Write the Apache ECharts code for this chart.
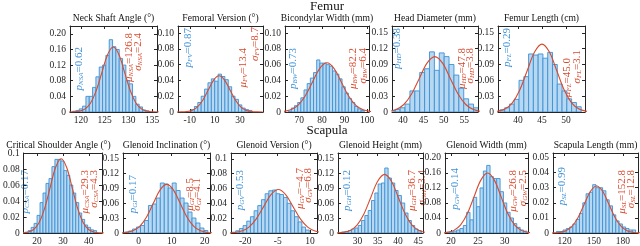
<!DOCTYPE html>
<html><head><meta charset="utf-8">
<script src="https://cdn.jsdelivr.net/npm/echarts@6/dist/echarts.min.js"></script>
<style>html,body{margin:0;padding:0;background:#fff}#c{width:640px;height:246px}</style>
</head><body><div id="c"></div>
<script>
// ================= DATA =================
const panelTitles = ['Neck Shaft Angle (°)','Femoral Version (°)','Bicondylar Width (mm)','Head Diameter (mm)','Femur Length (cm)',
  'Critical Shoulder Angle (°)','Glenoid Inclination (°)','Glenoid Version (°)','Glenoid Height (mm)','Glenoid Width (mm)','Scapula Length (mm)'];
const groupTitles = ['Femur','Scapula'];
const abbrevs = ['NSA','FV','BW','HD','FL','CSA','GI','GV','GH','GW','SL'];
const pValues = ['0.62','0.87','0.73','0.38','0.29','0.17','0.17','0.53','0.12','0.14','0.99'];
const muValues = ['126.8','13.4','82.2','47.8','45.0','29.3','8.5','−4.7','36.7','26.8','152.8'];
const sigmaValues = ['2.4','8.7','6.4','3.8','3.1','4.3','4.1','6.8','3.4','2.5','12.8'];

// x tick values per panel
const xTicks = [[120,125,130,135],[-10,10,30],[70,80,90,100],[40,45,50,55],[40,45,50],
  [20,30,40],[0,10,20],[-20,-5,10],[30,35,40,45],[20,25,30],[120,150,180]];
// y tick values and labels per panel
const yTicks = [
  [0,0.04,0.08,0.12,0.16,0.20],[0,0.02,0.04,0.06,0.08,0.10],[0,0.02,0.04,0.06,0.08,0.10],
  [0,0.03,0.06,0.09,0.12,0.15],[0,0.03,0.06,0.09,0.12,0.15],[0,0.02,0.04,0.06,0.08,0.1],
  [0,0.03,0.06,0.09,0.12,0.15],[0,0.02,0.04,0.06,0.08,0.1],[0,0.03,0.06,0.09,0.12,0.15],
  [0,0.04,0.08,0.12,0.16,0.20],[0,0.01,0.02,0.03,0.04,0.05]];
const yTickLabels = [
  ['0','0.04','0.08','0.12','0.16','0.20'],['0','0.02','0.04','0.06','0.08','0.10'],['0','0.02','0.04','0.06','0.08','0.10'],
  ['0','0.03','0.06','0.09','0.12','0.15'],['0','0.03','0.06','0.09','0.12','0.15'],['0','0.02','0.04','0.06','0.08','0.1'],
  ['0','0.03','0.06','0.09','0.12','0.15'],['0','0.02','0.04','0.06','0.08','0.1'],['0','0.03','0.06','0.09','0.12','0.15'],
  ['0','0.04','0.08','0.12','0.16','0.20'],['0','0.01','0.02','0.03','0.04','0.05']];

// histograms: first bin edge, bin width, relative frequencies (pdf normalised)
const nsaBinStart = 118.25, nsaBinWidth = 0.7;
const nsaFreq = [0.002,0.004,0.008,0.015,0.04,0.04,0.063,0.09,0.115,0.12,0.145,0.185,0.167,0.16,0.137,0.12,0.08,0.072,0.04,0.02,0.013,0.005,0.003];
const fvBinStart = -9, fvBinWidth = 2.7;
const fvFreq = [0.003,0.007,0.012,0.02,0.029,0.037,0.042,0.039,0.048,0.045,0.041,0.032,0.02,0.016,0.009,0.005,0.003,0.002];
const bwBinStart = 65.1, bwBinWidth = 1.4;
const bwFreq = [0.001,0.005,0.008,0.012,0.018,0.028,0.036,0.043,0.05,0.066,0.062,0.062,0.06,0.058,0.052,0.048,0.042,0.032,0.024,0.017,0.012,0.007,0.004,0.002];
const hdBinStart = 36.9, hdBinWidth = 1.2;
const hdFreq = [0.003,0.005,0.008,0.015,0.04,0.04,0.075,0.082,0.114,0.079,0.112,0.105,0.09,0.07,0.045,0.025,0.015,0.008,0.005];
const flBinStart = 36.2, flBinWidth = 1.0;
const flFreq = [0.004,0.008,0.015,0.024,0.06,0.067,0.11,0.108,0.11,0.102,0.113,0.09,0.053,0.04,0.025,0.018,0.01];
const csaBinStart = 15.4, csaBinWidth = 1.15;
const csaFreq = [0.001,0.003,0.007,0.012,0.022,0.038,0.05,0.062,0.068,0.083,0.092,0.092,0.09,0.078,0.072,0.06,0.05,0.038,0.025,0.017,0.01,0.007,0.004,0.003];
const giBinStart = -4.25, giBinWidth = 1.2;
const giFreq = [0.002,0.004,0.008,0.012,0.015,0.025,0.055,0.058,0.07,0.1,0.098,0.09,0.1,0.085,0.07,0.06,0.042,0.03,0.02,0.01,0.005];
const gvBinStart = -26.1, gvBinWidth = 1.7;
const gvFreq = [0.001,0.003,0.006,0.01,0.016,0.022,0.03,0.037,0.045,0.053,0.057,0.058,0.053,0.052,0.048,0.04,0.03,0.022,0.015,0.008,0.004];
const ghBinStart = 26.1, ghBinWidth = 0.82;
const ghFreq = [0.002,0.003,0.005,0.008,0.01,0.015,0.025,0.035,0.045,0.065,0.08,0.098,0.1,0.13,0.11,0.1,0.085,0.075,0.06,0.04,0.025,0.015,0.008,0.005];
const gwBinStart = 19.2, gwBinWidth = 0.62;
const gwFreq = [0.002,0.003,0.005,0.008,0.012,0.02,0.055,0.035,0.095,0.07,0.12,0.165,0.18,0.15,0.145,0.145,0.11,0.08,0.055,0.04,0.025,0.015,0.008,0.005];
const slBinStart = 111.4, slBinWidth = 3.4;
const slFreq = [0.001,0.001,0.002,0.003,0.004,0.006,0.009,0.013,0.02,0.026,0.027,0.032,0.03,0.03,0.028,0.022,0.018,0.012,0.008,0.006,0.004,0.003,0.002,0.002];

// fitted normal curves (sampled points)
const nsaCurveX = [117.2,118.4,119.6,120.8,122.0,123.2,124.4,125.6,126.8,128.0,129.2,130.4,131.6,132.8,134.0,135.2,136.4];
const nsaCurveY = [0.00005,0.0004,0.0018,0.0073,0.0225,0.054,0.1008,0.1467,0.1662,0.1467,0.1008,0.054,0.0225,0.0073,0.0018,0.0004,0.00005];
const fvCurveX = [-21.4,-17.05,-12.7,-8.35,-4.0,0.35,4.7,9.05,13.4,17.75,22.1,26.45,30.8,35.15,39.5,43.85,48.2];
const fvCurveY = [0.00001,0.0001,0.00051,0.00201,0.0062,0.01489,0.02781,0.04046,0.04585,0.04046,0.02781,0.01489,0.0062,0.00201,0.00051,0.0001,0.00001];
const bwCurveX = [56.6,59.8,63.0,66.2,69.4,72.6,75.8,79.0,82.2,85.4,88.6,91.8,95.0,98.2,101.4,104.6,107.8];
const bwCurveY = [0.00002,0.00014,0.00069,0.00274,0.00843,0.02024,0.0378,0.05501,0.06233,0.05501,0.0378,0.02024,0.00843,0.00274,0.00069,0.00014,0.00002];
const hdCurveX = [32.6,34.5,36.4,38.3,40.2,42.1,44.0,45.9,47.8,49.7,51.6,53.5,55.4,57.3,59.2,61.1,63.0];
const hdCurveY = [0.00003,0.00023,0.00117,0.00461,0.0142,0.03409,0.06367,0.09264,0.10498,0.09264,0.06367,0.03409,0.0142,0.00461,0.00117,0.00023,0.00003];
const flCurveX = [32.6,34.15,35.7,37.25,38.8,40.35,41.9,43.45,45.0,46.55,48.1,49.65,51.2,52.75,54.3,55.85,57.4];
const flCurveY = [0.00004,0.00028,0.00143,0.00565,0.01741,0.04179,0.07805,0.11357,0.12869,0.11357,0.07805,0.04179,0.01741,0.00565,0.00143,0.00028,0.00004];
const csaCurveX = [12.1,14.25,16.4,18.55,20.7,22.85,25.0,27.15,29.3,31.45,33.6,35.75,37.9,40.05,42.2,44.35,46.5];
const csaCurveY = [0.00003,0.0002,0.00103,0.00407,0.01255,0.03012,0.05627,0.08187,0.09277,0.08187,0.05627,0.03012,0.01255,0.00407,0.00103,0.0002,0.00003];
const giCurveX = [-7.9,-5.85,-3.8,-1.75,0.3,2.35,4.4,6.45,8.5,10.55,12.6,14.65,16.7,18.75,20.8,22.85,24.9];
const giCurveY = [0.00003,0.00021,0.00108,0.00427,0.01316,0.03159,0.05901,0.08587,0.0973,0.08587,0.05901,0.03159,0.01316,0.00427,0.00108,0.00021,0.00003];
const gvCurveX = [-31.9,-28.5,-25.1,-21.7,-18.3,-14.9,-11.5,-8.1,-4.7,-1.3,2.1,5.5,8.9,12.3,15.7,19.1,22.5];
const gvCurveY = [0.00002,0.00013,0.00065,0.00258,0.00794,0.01905,0.03558,0.05177,0.05866,0.05177,0.03558,0.01905,0.00794,0.00258,0.00065,0.00013,0.00002];
const ghCurveX = [23.1,24.8,26.5,28.2,29.9,31.6,33.3,35.0,36.7,38.4,40.1,41.8,43.5,45.2,46.9,48.6,50.3];
const ghCurveY = [0.00004,0.00026,0.0013,0.00515,0.01587,0.0381,0.07116,0.10354,0.11733,0.10354,0.07116,0.0381,0.01587,0.00515,0.0013,0.00026,0.00004];
const gwCurveX = [16.8,18.05,19.3,20.55,21.8,23.05,24.3,25.55,26.8,28.05,29.3,30.55,31.8,33.05,34.3,35.55,36.8];
const gwCurveY = [0.00005,0.00035,0.00177,0.00701,0.02159,0.05182,0.09679,0.14083,0.15958,0.14083,0.09679,0.05182,0.02159,0.00701,0.00177,0.00035,0.00005];
const slCurveX = [101.6,108.0,114.4,120.8,127.2,133.6,140.0,146.4,152.8,159.2,165.6,172.0,178.4,184.8,191.2,197.6,204.0];
const slCurveY = [0.00001,0.00007,0.00035,0.00137,0.00422,0.01012,0.0189,0.02751,0.03117,0.02751,0.0189,0.01012,0.00422,0.00137,0.00035,0.00007,0.00001];

// ================= LAYOUT (positions / styles) =================
const histStart = [nsaBinStart,fvBinStart,bwBinStart,hdBinStart,flBinStart,csaBinStart,giBinStart,gvBinStart,ghBinStart,gwBinStart,slBinStart];
const histWidth = [nsaBinWidth,fvBinWidth,bwBinWidth,hdBinWidth,flBinWidth,csaBinWidth,giBinWidth,gvBinWidth,ghBinWidth,gwBinWidth,slBinWidth];
const histFreq = [nsaFreq,fvFreq,bwFreq,hdFreq,flFreq,csaFreq,giFreq,gvFreq,ghFreq,gwFreq,slFreq];
const curveX = [nsaCurveX,fvCurveX,bwCurveX,hdCurveX,flCurveX,csaCurveX,giCurveX,gvCurveX,ghCurveX,gwCurveX,slCurveX];
const curveY = [nsaCurveY,fvCurveY,bwCurveY,hdCurveY,flCurveY,csaCurveY,giCurveY,gvCurveY,ghCurveY,gwCurveY,slCurveY];

const L = [
  {l:70, t:26, w:87, h:86, xmin:117.7, xmax:136,  ymax:0.22},
  {l:178,t:26, w:85, h:86, xmin:-19.4, xmax:48.4, ymax:0.109},
  {l:285,t:26, w:84, h:86, xmin:63.7,  xmax:100.8,ymax:0.109},
  {l:392,t:26, w:86, h:86, xmin:37.3,  xmax:58.4, ymax:0.163},
  {l:498,t:26, w:87, h:86, xmin:35.8,  xmax:54,   ymax:0.163},
  {l:15, t:153,w:87, h:84, xmin:14.8,  xmax:45.1, ymax:0.10},
  {l:123,t:153,w:87, h:84, xmin:-4.75, xmax:21.6, ymax:0.16},
  {l:231,t:153,w:86, h:84, xmin:-26.6, xmax:13.2, ymax:0.108},
  {l:338,t:153,w:85, h:84, xmin:25.2,  xmax:46.2, ymax:0.16},
  {l:445,t:153,w:83, h:84, xmin:18.9,  xmax:34.3, ymax:0.213},
  {l:553,t:153,w:85, h:84, xmin:107.9, xmax:195.5,ymax:0.053}
];
// annotation anchors (top end of rotated text)
const A = [
  {px:79, py:47, mx:129,my:33, sx:138,sy:33},
  {px:188,py:28, mx:243,my:48, sx:255,sy:27},
  {px:293,py:48, mx:353,my:48, sx:363,sy:48},
  {px:397,py:28, mx:462,my:48, sx:470,sy:48},
  {px:507,py:28, mx:567,my:58, sx:577,sy:50},
  {px:25, py:170,mx:85, my:170,sx:94, sy:170},
  {px:133,py:175,mx:190,my:178,sx:197,sy:178},
  {px:240,py:170,mx:300,my:168,sx:308,sy:168},
  {px:347,py:170,mx:412,my:170,sx:422,sy:170},
  {px:455,py:168,mx:513,my:170,sx:523,sy:170},
  {px:562,py:167,mx:622,my:170,sx:631,sy:170}
];

const FONT = '"Liberation Serif","Times New Roman",serif';
const AX = '#262626', BLUE = '#3f92d8', RED = '#d94a2e';
const grids=[], xAxes=[], yAxes=[], series=[], graphics=[];

L.forEach((g,i)=>{
  grids.push({left:g.l, top:g.t, width:g.w, height:g.h, show:false, containLabel:false});
  const yVals = yTicks[i];
  const common = {min:g.xmin, max:g.xmax, gridIndex:i, splitLine:{show:false},
    axisLine:{show:true, onZero:false, lineStyle:{color:AX,width:1}}};
  xAxes.push(Object.assign({type:'value', position:'bottom',
    axisTick:{show:true, inside:true, length:3, customValues:xTicks[i], lineStyle:{color:AX}},
    axisLabel:{show:true, customValues:xTicks[i], fontFamily:FONT, fontSize:9.5, color:AX, margin:3,
      formatter:v=> (v<0?'-':'')+Math.abs(v)}}, common));
  xAxes.push(Object.assign({type:'value', position:'top',
    axisTick:{show:true, inside:true, length:3, customValues:xTicks[i], lineStyle:{color:AX}},
    axisLabel:{show:false}}, common));
  const yc = {min:0, max:g.ymax, gridIndex:i, splitLine:{show:false},
    axisLine:{show:true, onZero:false, lineStyle:{color:AX,width:1}}};
  yAxes.push(Object.assign({type:'value', position:'left',
    axisTick:{show:true, inside:true, length:3, customValues:yVals, lineStyle:{color:AX}},
    axisLabel:{show:true, customValues:yVals, fontFamily:FONT, fontSize:9.5, color:AX, margin:4,
      formatter:v=>{ const k=yVals.findIndex(t=>Math.abs(t-v)<1e-9); return k>=0?yTickLabels[i][k]:''; }}}, yc));
  yAxes.push(Object.assign({type:'value', position:'right',
    axisTick:{show:true, inside:true, length:3, customValues:yVals, lineStyle:{color:AX}},
    axisLabel:{show:false}}, yc));

  const hd = histFreq[i].map((f,k)=>[histStart[i]+k*histWidth[i], histStart[i]+(k+1)*histWidth[i], f]);
  series.push({type:'custom', xAxisIndex:2*i, yAxisIndex:2*i, clip:true, data:hd, silent:true,
    renderItem:(params, api)=>{
      const p0 = api.coord([api.value(0), api.value(2)]);
      const p1 = api.coord([api.value(1), 0]);
      return {type:'rect', shape:{x:p0[0], y:p0[1], width:p1[0]-p0[0], height:p1[1]-p0[1]},
        style:{fill:'#b8d7f1', stroke:'#3b92d6', lineWidth:0.9}};
    }});
  series.push({type:'line', xAxisIndex:2*i, yAxisIndex:2*i, clip:true, smooth:0.35, symbol:'none', silent:true,
    data: curveX[i].map((x,k)=>[x, curveY[i][k]]), lineStyle:{color:RED, width:1.1}, z:5});

  graphics.push({type:'text', x:g.l+g.w/2, y:g.t-8, style:{text:panelTitles[i], font:'9.6px '+FONT, fill:'#111', align:'center', verticalAlign:'middle'}});
  const a = A[i];
  const rich = (col)=>({
    i:{fontFamily:FONT, fontSize:11, fontStyle:'italic', fill:col, lineHeight:12, verticalAlign:'middle'},
    s:{fontFamily:FONT, fontSize:7, fontStyle:'italic', fill:col, lineHeight:12, verticalAlign:'bottom', padding:[4,0,0,0]},
    n:{fontFamily:FONT, fontSize:11, fill:col, lineHeight:12, verticalAlign:'middle'}
  });
  graphics.push({type:'text', x:a.px, y:a.py, rotation:Math.PI/2, style:{text:'{i|p}{s|'+abbrevs[i]+'}{n|='+pValues[i]+'}', rich:rich(BLUE), align:'right', verticalAlign:'middle'}});
  graphics.push({type:'text', x:a.mx, y:a.my, rotation:Math.PI/2, style:{text:'{i|μ}{s|'+abbrevs[i]+'}{n|='+muValues[i]+'}', rich:rich(RED), align:'right', verticalAlign:'middle'}});
  graphics.push({type:'text', x:a.sx, y:a.sy, rotation:Math.PI/2, style:{text:'{i|σ}{s|'+abbrevs[i]+'}{n|='+sigmaValues[i]+'}', rich:rich(RED), align:'right', verticalAlign:'middle'}});
});
graphics.push({type:'text', x:327, y:7, style:{text:groupTitles[0], font:'13px '+FONT, fill:'#111', align:'center', verticalAlign:'middle'}});
graphics.push({type:'text', x:327, y:131, style:{text:groupTitles[1], font:'13px '+FONT, fill:'#111', align:'center', verticalAlign:'middle'}});

const chart = echarts.init(document.getElementById('c'), null, {renderer:'canvas'});
chart.setOption({animation:false, grid:grids, xAxis:xAxes, yAxis:yAxes, series:series, graphic:graphics});
</script></body></html>
